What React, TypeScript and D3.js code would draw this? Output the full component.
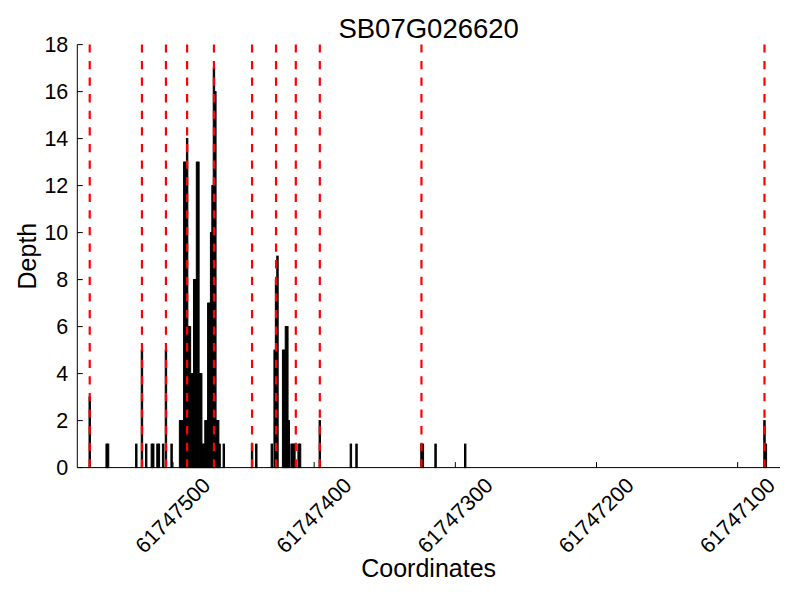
import React from "react";
import * as d3 from "d3";

const title = "SB07G026620";
const xLabel = "Coordinates";
const yLabel = "Depth";

const positions = [
  61747559, 61747547, 61747546, 61747526, 61747522, 61747519, 61747515, 61747514,
  61747511, 61747510, 61747507, 61747505, 61747501,
  61747495, 61747494, 61747493, 61747492, 61747491, 61747490, 61747489, 61747488,
  61747487, 61747486, 61747485, 61747484, 61747483, 61747482, 61747481, 61747480,
  61747479, 61747478, 61747477, 61747476, 61747475, 61747474, 61747473, 61747472,
  61747471, 61747470, 61747469, 61747468, 61747467, 61747464,
  61747444, 61747441, 61747430, 61747428, 61747427, 61747426, 61747422, 61747421,
  61747420, 61747419, 61747418, 61747416, 61747415, 61747414, 61747411, 61747410,
  61747396, 61747374, 61747370, 61747324, 61747323, 61747314, 61747293,
  61747081, 61747080,
];
const depths = [
  3, 1, 1, 1, 5, 1, 1, 1,
  1, 1, 1, 5, 1,
  2, 2, 2, 13, 13, 14, 6, 6,
  4, 4, 8, 8, 13, 13, 4, 4,
  1, 1, 2, 2, 7, 7, 10, 12,
  17, 16, 2, 2, 1, 1,
  1, 1, 1, 5, 8, 9, 5, 5,
  6, 6, 2, 1, 1, 1, 1, 1,
  2, 1, 1, 1, 1, 1, 1,
  2, 1,
];
const boundaries = [
  61747559, 61747522, 61747505, 61747490, 61747471, 61747444, 61747427, 61747413,
  61747396, 61747324, 61747081,
];
const xTicks = [61747500, 61747400, 61747300, 61747200, 61747100];
const yTicks = [0, 2, 4, 6, 8, 10, 12, 14, 16, 18];
const xDomain = [61747567.8, 61747070];
const yDomain = [0, 18];

const W = 800;
const H = 600;
const L = 77.3, R = 780, T = 44.6, B = 467.6;
const FONT = "'Liberation Sans', Arial, Helvetica, sans-serif";

export default function App() {
  const x = d3.scaleLinear().domain(xDomain).range([L, R]);
  const y = d3.scaleLinear().domain(yDomain).range([B, T]);
  const bars = positions.map((p, i) => ({ p, d: depths[i] }));
  const tickFs = 21.5;
  const labW = 8 * 0.556 * tickFs;
  const labH = 1.15 * tickFs;
  const boxH = (labW + labH) * Math.SQRT1_2;
  return (
    <svg width={W} height={H} style={{ position: "absolute", left: 0, top: 0, background: "#fff" }} fontFamily={FONT}>
      <rect x={0} y={0} width={W} height={H} fill="#fff" />
      {bars.map((b, i) => {
        const x0 = x(b.p + 0.5);
        const x1 = x(b.p - 0.5);
        return (
          <rect key={i} x={Math.min(x0, x1)} y={y(b.d)} width={Math.abs(x1 - x0)} height={y(0) - y(b.d)}
            fill="#000" stroke="#000" strokeWidth={1} />
        );
      })}
      {boundaries.map((v, i) => (
        <line key={i} x1={x(v)} x2={x(v)} y1={B} y2={T} stroke="#ff0000" strokeWidth={2.2} strokeDasharray="8.3 8.3" />
      ))}
      <line x1={L} x2={L} y1={T} y2={B} stroke="#000" strokeWidth={1} />
      <line x1={L} x2={R} y1={B} y2={B} stroke="#000" strokeWidth={1} />
      {yTicks.map((t) => (
        <g key={t}>
          <line x1={L} x2={L + 5.5} y1={y(t)} y2={y(t)} stroke="#000" strokeWidth={1} />
          <text x={L - 9} y={y(t)} textAnchor="end" dominantBaseline="central" fontSize={tickFs} fill="#000">{t}</text>
        </g>
      ))}
      {xTicks.map((t) => (
        <g key={t}>
          <line x1={x(t)} x2={x(t)} y1={B} y2={B - 5.5} stroke="#000" strokeWidth={1} />
          <text transform={`translate(${x(t)},${B + 5.6 + boxH / 2}) rotate(-45)`} textAnchor="middle" dominantBaseline="central" fontSize={tickFs} fill="#000">{t}</text>
        </g>
      ))}
      <text x={(L + R) / 2} y={38} textAnchor="middle" fontSize={27.5} fill="#000">{title}</text>
      <text x={(L + R) / 2} y={577} textAnchor="middle" fontSize={25} fill="#000">{xLabel}</text>
      <text transform={`translate(36,${(T + B) / 2}) rotate(-90)`} textAnchor="middle" fontSize={25} fill="#000">{yLabel}</text>
    </svg>
  );
}
